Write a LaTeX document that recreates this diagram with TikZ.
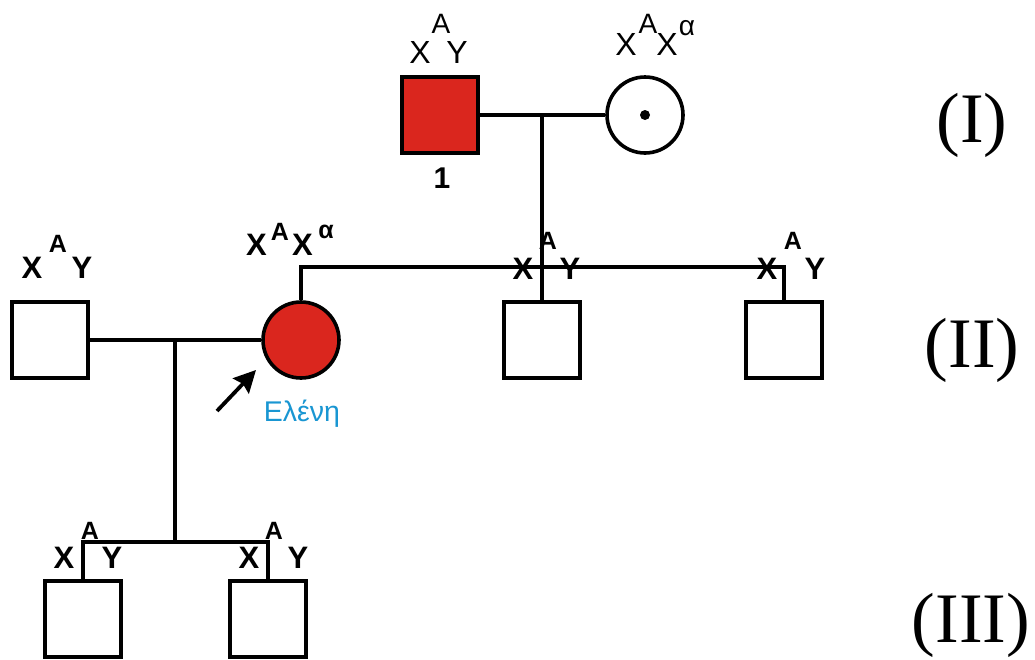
\documentclass[tikz,border=0pt]{standalone}
\usepackage{fontspec}
\setmainfont{Liberation Serif}
\setsansfont{Liberation Sans}
\usetikzlibrary{arrows.meta}
\definecolor{affred}{RGB}{218,38,30}
\definecolor{eleniblue}{RGB}{25,150,210}
\tikzset{
  ln/.style={line width=3.6pt},
  male/.style={draw, line width=3.6pt, rectangle, minimum size=76pt, inner sep=0pt, fill=white},
  female/.style={draw, line width=3.6pt, circle, minimum size=76pt, inner sep=0pt, fill=white},
  aff/.style={fill=affred},
  gtop/.style={font=\sffamily\fontsize{32}{32}\selectfont, anchor=base, inner sep=0pt},
  gtopsup/.style={font=\sffamily\fontsize{28}{28}\selectfont, anchor=base, inner sep=0pt},
  gb/.style={font=\sffamily\bfseries\fontsize{31}{31}\selectfont, anchor=base, inner sep=0pt},
  gbsup/.style={font=\sffamily\bfseries\fontsize{25}{25}\selectfont, anchor=base, inner sep=0pt},
  gen/.style={font=\rmfamily\fontsize{71}{71}\selectfont, anchor=base, inner sep=0pt},
}
\begin{document}
\begin{tikzpicture}[x=1pt,y=-1pt]
\useasboundingbox (0,0) rectangle (1035,659);
% individuals
\node[male,aff] (I1) at (440,115) {};
\node[female] (I2) at (645,115) {};
\fill (I2.center) circle (5pt);
\node[male] (II1) at (50,340) {};
\node[female,aff] (II2) at (301,340) {};
\node[male] (II3) at (542,340) {};
\node[male] (II4) at (784,340) {};
\node[male] (III1) at (83,619) {};
\node[male] (III2) at (268,619) {};
% coordinates
\coordinate (m1) at (542,115);
\coordinate (sib2) at (542,267);
\coordinate (m2) at (175,340);
\coordinate (sib3) at (175,542);
% connectors
\draw[ln] (I1.east) -- (I2.west);
\draw[ln] (m1) -- (II3.north);
\draw[ln] (II2.north) -- (II2.north |- sib2) -- (II4.north |- sib2) -- (II4.north);
\draw[ln] (II1.east) -- (II2.west);
\draw[ln] (m2) -- (sib3);
\draw[ln] (III1.north) -- (III1.north |- sib3) -- (III2.north |- sib3) -- (III2.north);
% proband arrow
\coordinate (at) at (217,411);
\coordinate (ah) at (256,370);
\draw[line width=3.8pt, -{Stealth[length=22pt,width=22pt,inset=3pt]}] (at) -- (ah);
\node[font=\sffamily\fontsize{28.5}{28.5}\selectfont, text=eleniblue, anchor=base, inner sep=0pt] (eleni) at (302,421) {Ελένη};
% genotypes generation I
\node[gtop] (g1x) at (420,63) {X};
\node[gtopsup] (g1a) at (441,33) {A};
\node[gtop] (g1y) at (457,63) {Y};
\node[font=\sffamily\bfseries\fontsize{30}{30}\selectfont, anchor=base, inner sep=0pt] (n1) at (442,188) {1};
\node[gtop] (g2x) at (626,55) {X};
\node[gtopsup] (g2a) at (648,33) {A};
\node[gtop] (g2x2) at (667,55) {X};
\node[gtopsup] (g2al) at (687,35) {α};
% generation II
\node[gb] (h1x) at (32,278) {X};
\node[gbsup] (h1a) at (58,252) {A};
\node[gb] (h1y) at (82,278) {Y};
\node[gb] (h2x) at (256.5,255) {X};
\node[gbsup] (h2a) at (280,240) {A};
\node[gb] (h2x2) at (302.5,255) {X};
\node[gbsup] (h2al) at (326,238) {α};
\node[gb] (h3x) at (523,279) {X};
\node[gbsup] (h3a) at (548,249) {A};
\node[gb] (h3y) at (570,279) {Y};
\node[gb] (h4x) at (767,279) {X};
\node[gbsup] (h4a) at (793,249) {A};
\node[gb] (h4y) at (815,279) {Y};
% generation III
\node[gb] (k1x) at (64,568) {X};
\node[gbsup] (k1a) at (90,539) {A};
\node[gb] (k1y) at (112,568) {Y};
\node[gb] (k2x) at (249,568) {X};
\node[gbsup] (k2a) at (274,539) {A};
\node[gb] (k2y) at (298,568) {Y};
% generation labels
\node[gen] (G1) at (972,142) {(I)};
\node[gen] (G2) at (972,367) {(II)};
\node[gen] (G3) at (971,642) {(III)};
\end{tikzpicture}
\end{document}
